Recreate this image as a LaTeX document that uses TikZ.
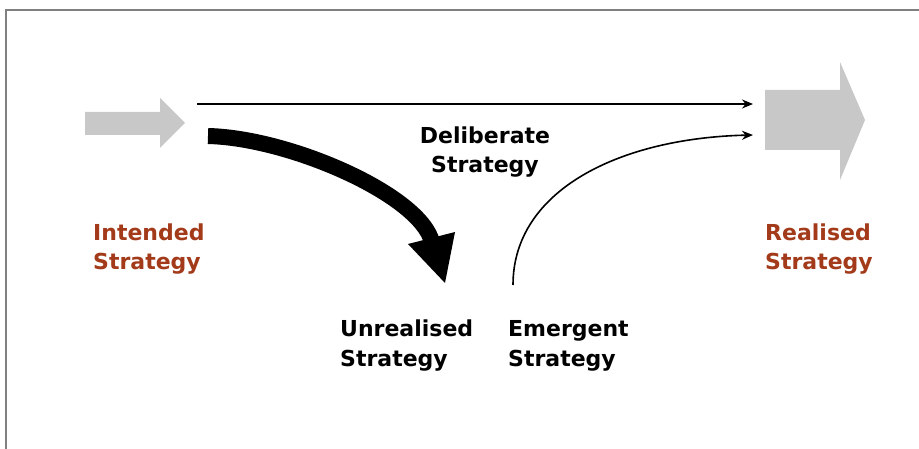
\documentclass[tikz,border=0pt]{standalone}
\usepackage{fontspec}
\setmainfont{DejaVu Sans}
\usetikzlibrary{arrows.meta}
\definecolor{labelred}{RGB}{163,58,26}
\definecolor{arrowgrey}{RGB}{200,200,200}
\definecolor{framegrey}{RGB}{128,128,128}
\begin{document}
\begin{tikzpicture}[x=1pt,y=-1pt,
  lbl/.style={font=\bfseries\fontsize{22}{29}\selectfont, inner sep=0pt},
  leftlbl/.style={lbl, align=left, anchor=base west},
  redlbl/.style={leftlbl, text=labelred},
  thinarrow/.style={line width=1.6pt, -{Stealth[length=11pt,width=9pt]}},
  blockarrow/.style={fill=arrowgrey}]
\useasboundingbox (0,0) rectangle (919,449);
\fill[white] (0,0) rectangle (919,449);
% frame
\draw[framegrey, line width=2pt] (6,449) -- (6,10) -- (919,10);

% block arrows: intended (left) and realised (right)
\fill[blockarrow] (85,112) -- (160,112) -- (160,98) -- (185,123) -- (160,148)
  -- (160,135) -- (85,135) -- cycle;
\fill[blockarrow] (765,90) -- (840,90) -- (840,62) -- (865,120) -- (840,180)
  -- (840,150) -- (765,150) -- cycle;

\coordinate (delstart) at (197,104);
\coordinate (delend)   at (753,104);
\coordinate (emstart)  at (513,285);
\coordinate (emend)    at (753,135);
\coordinate (unstart)  at (208,136);
\coordinate (unend)    at (432,242);

% deliberate strategy
\draw[thinarrow] (delstart) -- (delend);
% emergent strategy
\draw[thinarrow] (emstart) .. controls (513,190) and (620,138) .. (emend);
% unrealised strategy: heavy curved arrow
\draw[line width=16pt] (unstart) .. controls (290,138) and (420,195) .. (unend);
\fill (408,244) -- (455,232) -- (445,283) -- cycle;

% labels (anchored on the baseline of the last line)
\node[lbl, align=center, anchor=base] (deliberate) at (485,173) {Deliberate\\Strategy};
\node[redlbl] (intended) at (93,270) {Intended\\Strategy};
\node[redlbl] (realised) at (765,270) {Realised\\Strategy};
\node[leftlbl] (unrealised) at (340,366) {Unrealised\\Strategy};
\node[leftlbl] (emergent) at (508,366) {Emergent\\Strategy};
\end{tikzpicture}
\end{document}
